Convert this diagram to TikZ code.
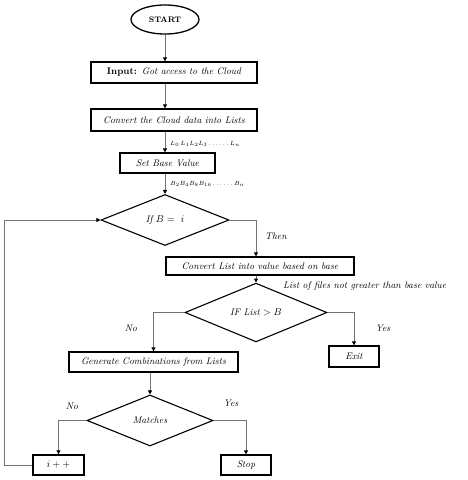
\documentclass[tikz,border=0pt]{standalone}
\usetikzlibrary{shapes.geometric,arrows.meta}
\begin{document}
\begin{tikzpicture}[x=1pt,y=-1pt,
  box/.style={draw=black,line width=1.3pt,rectangle,inner sep=0pt,font=\fontsize{9.6}{11}\selectfont\itshape},
  term/.style={draw=black,line width=1.3pt,ellipse,inner sep=0pt,minimum width=68pt,minimum height=29pt,font=\fontsize{8}{9}\selectfont\bfseries},
  dec/.style={draw=black,line width=1.1pt,diamond,inner sep=0pt,font=\fontsize{9.6}{11}\selectfont\itshape},
  arr/.style={draw=black!55,line width=0.9pt,-{Triangle[length=4pt,width=4pt,fill=black,color=black]}},
  lab/.style={font=\fontsize{9.6}{11}\selectfont\itshape,inner sep=0pt},
  slab/.style={font=\fontsize{6.5}{8}\selectfont,inner sep=0pt}]
\useasboundingbox (0,0) rectangle (468,480);

\node[term] (start) at (165,19.5) {START};
\node[box,minimum width=166pt,minimum height=21pt] (input) at (174,72.5) {\upshape\bfseries Input: \mdseries\itshape Got access to the Cloud};
\node[box,minimum width=166pt,minimum height=22pt] (conv) at (174,120) {Convert the Cloud data into Lists};
\node[box,minimum width=95pt,minimum height=20pt] (base) at (167.5,163) {Set Base Value};
\node[dec,minimum width=128pt,minimum height=51pt] (d1) at (165,220) {If $B =\ i$};
\node[box,minimum width=188pt,minimum height=18pt] (clist) at (260,266) {Convert List into value based on base};
\node[dec,minimum width=142pt,minimum height=49pt] (d2) at (256,312.5) {IF List $> B$};
\node[box,minimum width=169pt,minimum height=20pt] (gen) at (153.5,362) {Generate Combinations from Lists};
\node[box,minimum width=50pt,minimum height=21pt] (exit) at (354,356.5) {Exit};
\node[dec,minimum width=126pt,minimum height=51pt] (d3) at (150,420.5) {Matches};
\node[box,minimum width=51pt,minimum height=20pt] (ipp) at (58.5,465) {$i++$};
\node[box,minimum width=50pt,minimum height=20pt] (stop) at (246,465) {Stop};
\coordinate (loop) at (4,465);

\node[slab,anchor=west] (lL) at (170,144) {$L_0\,L_1 L_2 L_3 \ldots\ldots L_n$};
\node[slab,anchor=west] (lB) at (170,184) {$B_2 B_4 B_8 B_{16}\ldots\ldots B_n$};
\node[lab,anchor=west] (lthen) at (265,236) {Then};
\node[lab,anchor=west] (lfiles) at (283,286) {List of files not greater than base value};
\node[lab] (lno1) at (131,328) {No};
\node[lab] (lyes1) at (383,328) {Yes};
\node[lab] (lno2) at (72,406) {No};
\node[lab] (lyes2) at (231,403) {Yes};

\draw[arr] (start.south) -- (start.south |- input.north);
\draw[arr] (start.south |- input.south) -- (start.south |- conv.north);
\draw[arr] (start.south |- conv.south) -- (start.south |- base.north);
\draw[arr] (d1.north |- base.south) -- (d1.north);
\draw[arr] (d1.east) -| (d2.north |- clist.north);
\draw[arr] (d2.north |- clist.south) -- (d2.north);
\draw[arr] (d2.west) -| (gen.north);
\draw[arr] (d2.east) -| (exit.north);
\draw[arr] (d3.north |- gen.south) -- (d3.north);
\draw[arr] (d3.west) -| (ipp.north);
\draw[arr] (d3.east) -| (stop.north);
\draw[arr] (ipp.west) -- (loop) |- (d1.west);
\end{tikzpicture}
\end{document}
